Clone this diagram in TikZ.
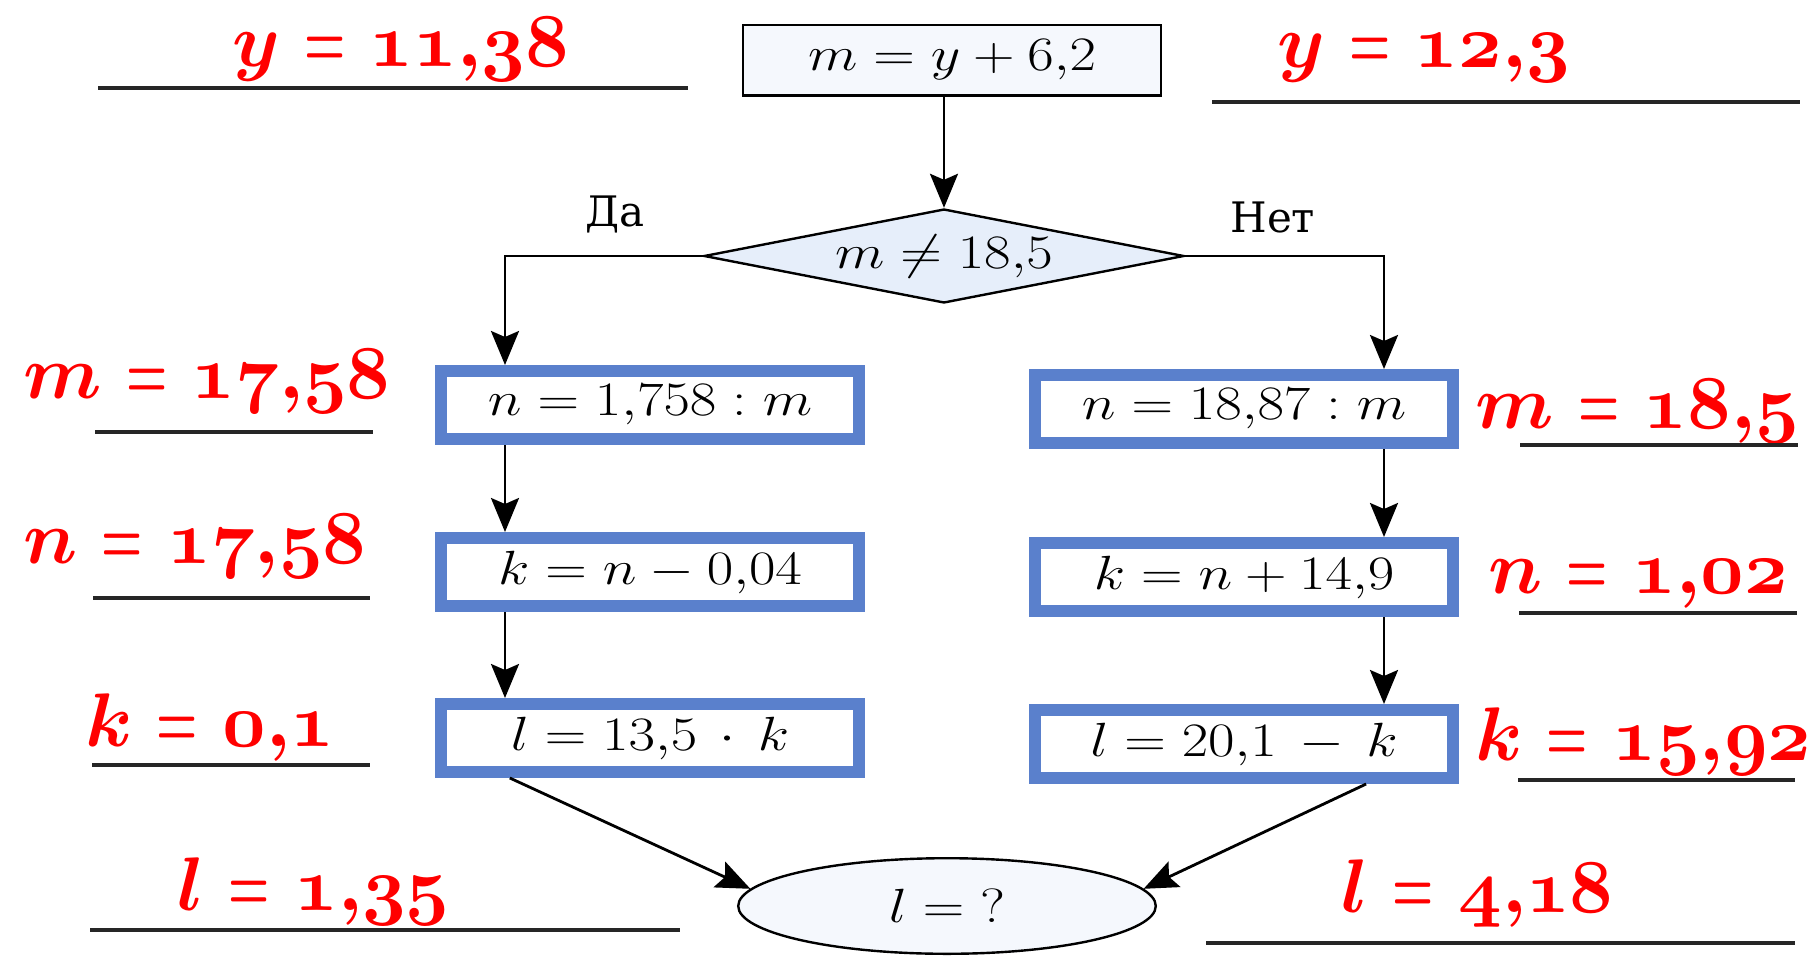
\RequirePackage{fix-cm}
\documentclass[tikz,border=0pt]{standalone}
\usepackage{amsmath,amssymb}
\usepackage{fontspec}
\usepackage{graphicx}
\usepackage{tikz}
\usetikzlibrary{arrows.meta,positioning,calc,shapes.geometric}
\newfontfamily\cyrfont{DejaVu Serif}
\definecolor{frameblue}{RGB}{90,128,204}
\definecolor{paleblue}{RGB}{230,238,250}
\definecolor{ansred}{RGB}{255,0,0}
\newcommand\boxfont{\fontsize{24pt}{28pt}\selectfont}
\newcommand\ansfont{\fontsize{38pt}{42pt}\selectfont}
\newcommand\branchfont{\cyrfont\fontsize{21pt}{25pt}\selectfont}
\newcommand\bx[1]{\scalebox{1.2}[1]{$#1$}}
\newcommand\ans[1]{{\boldmath$#1$}}
\newcommand\osn[1]{\mathnormal{#1}}
\newcommand\eqs{\mathrel{\scalebox{0.62}[1]{$=$}}}

\begin{document}
\begin{tikzpicture}[x=0.5pt,y=-0.5pt,
  procbox/.style={draw=frameblue,line width=6pt,fill=white,minimum width=209pt,minimum height=34pt,inner sep=0pt,font=\boxfont},
  thinbox/.style={draw,line width=1.2pt,inner sep=0pt,font=\boxfont},
  conn/.style={line width=1.4pt,-{Stealth[length=17pt,width=14pt,inset=3pt]}},
  answer/.style={anchor=base west,inner sep=0pt,text=ansred,font=\ansfont},
  blank/.style={line width=2pt,black!85}]
\useasboundingbox (0,0) rectangle (1816,959);

% flowchart
\node[thinbox,fill=paleblue!40!white,minimum width=208.8pt,minimum height=35.3pt] (mbox) at (952,60) {\bx{m = y + 6{,}2}};
\node[thinbox,diamond,aspect=5,fill=paleblue,minimum width=240pt,minimum height=47pt] (cond) at (944,256) {\bx{m \neq 18{,}5}};
\node[procbox] (ln) at (650,405) {\bx{n = 1{,}758 : m}};
\node[procbox] (lk) at (650,572) {\bx{k = n - 0{,}04}};
\node[procbox] (ll) at (650,738) {\bx{l = 13{,}5 \,\cdot\, k}};
\node[procbox] (rn) at (1244,409) {\bx{n = 18{,}87 : m}};
\node[procbox] (rk) at (1244,577) {\bx{k = n + 14{,}9}};
\node[procbox] (rl) at (1244,744) {\bx{l = 20{,}1 \,-\, k}};
\node[thinbox,ellipse,fill=paleblue!40!white,minimum width=208.8pt,minimum height=47.8pt] (res) at (947,906) {\bx{l = {?}}};
\node[anchor=base west,inner sep=0pt,font=\branchfont] (yes) at (585,226) {Да};
\node[anchor=base west,inner sep=0pt,font=\branchfont] (no) at (1230,232) {Нет};

\coordinate (lx) at (505,0);
\coordinate (rx) at (1384,0);
\draw[conn] (mbox.south -| cond.north) -- (cond.north);
\draw[conn] (cond.west) -| (ln.north -| lx);
\draw[conn] (cond.east) -| (rn.north -| rx);
\draw[conn] (ln.south -| lx) -- (lk.north -| lx);
\draw[conn] (lk.south -| lx) -- (ll.north -| lx);
\draw[conn] (rn.south -| rx) -- (rk.north -| rx);
\draw[conn] (rk.south -| rx) -- (rl.north -| rx);
\draw[conn] ($(ll.south west)!0.174!(ll.south east)$) -- (res.175);
\draw[conn] ($(rl.south west)!0.784!(rl.south east)$) -- (res.5);

% answers
\node[answer] (ay1) at (232,66) {\ans{y \eqs \osn{11}{,}\osn{38}}};
\node[answer] (ay2) at (1277,67) {\ans{y \eqs \osn{12}{,}\osn{3}}};
\node[answer] (am1) at (23,398) {\ans{m \eqs \osn{17}{,}\osn{58}}};
\node[answer] (an1) at (23,563) {\ans{n \eqs \osn{17}{,}\osn{58}}};
\node[answer] (ak1) at (85,746) {\ans{k \eqs \osn{0}{,}\osn{1}}};
\node[answer] (al1) at (177,910) {\ans{l \eqs \osn{1}{,}\osn{35}}};
\node[answer] (am2) at (1475,428) {\ans{m \eqs \osn{18}{,}\osn{5}}};
\node[answer] (an2) at (1488,593) {\ans{n \eqs \osn{1}{,}\osn{02}}};
\node[answer] (ak2) at (1475,760) {\ans{k \eqs \osn{15}{,}\osn{92}}};
\node[answer] (al2) at (1341,912) {\ans{l \eqs \osn{4}{,}\osn{18}}};
\draw[blank] (98,88) -- (688,88);
\draw[blank] (1212,102) -- (1800,102);
\draw[blank] (95,432) -- (373,432);
\draw[blank] (93,598) -- (370,598);
\draw[blank] (92,765) -- (370,765);
\draw[blank] (90,930) -- (680,930);
\draw[blank] (1520,445) -- (1798,445);
\draw[blank] (1519,613) -- (1797,613);
\draw[blank] (1518,780) -- (1795,780);
\draw[blank] (1206,943) -- (1795,943);
\end{tikzpicture}
\end{document}
